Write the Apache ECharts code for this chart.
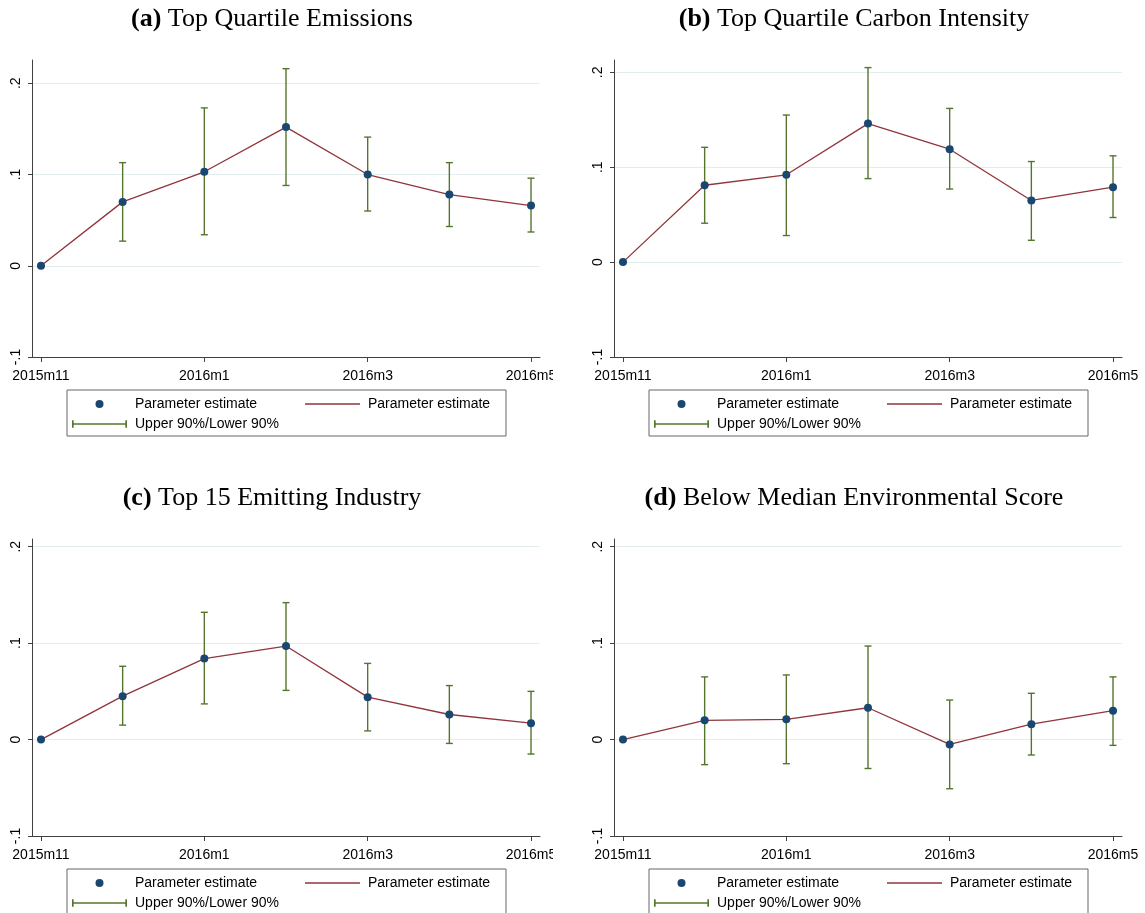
<!DOCTYPE html>
<html>
<head>
<meta charset="utf-8">
<script src="https://cdn.jsdelivr.net/npm/echarts@6.0.0/dist/echarts.min.js"></script>
<style>
html, body { margin:0; padding:0; background:#ffffff; width:1145px; height:913px; overflow:hidden; position:relative; }
.panel { position:absolute; height:456px; }
</style>
</head>
<body>
<div id="pa" class="panel" style="left:0px; top:0px; width:553px;"></div>
<div id="pb" class="panel" style="left:582px; top:0px; width:563px;"></div>
<div id="pc" class="panel" style="left:0px; top:479px; width:553px;"></div>
<div id="pd" class="panel" style="left:582px; top:479px; width:563px;"></div>
<script>
// ---------- data ----------
const months = ['2015m11', '2015m12', '2016m1', '2016m2', '2016m3', '2016m4', '2016m5'];
const xTickIdx = [0, 2, 4, 6];
const yTickValues = [-0.1, 0, 0.1, 0.2];
const yTickLabels = ['-.1', '0', '.1', '.2'];

const panelTags = ['(a)', '(b)', '(c)', '(d)'];
const panelTitles = ['Top Quartile Emissions', 'Top Quartile Carbon Intensity', 'Top 15 Emitting Industry', 'Below Median Environmental Score'];
const yAxisMax = [0.2255, 0.213, 0.208, 0.208];

const estA = [0, 0.070, 0.103, 0.152, 0.100, 0.078, 0.066];
const loA  = [0, 0.027, 0.034, 0.088, 0.060, 0.043, 0.037];
const hiA  = [0, 0.113, 0.173, 0.216, 0.141, 0.113, 0.096];

const estB = [0, 0.081, 0.092, 0.146, 0.119, 0.065, 0.079];
const loB  = [0, 0.041, 0.028, 0.088, 0.077, 0.023, 0.047];
const hiB  = [0, 0.121, 0.155, 0.205, 0.162, 0.106, 0.112];

const estC = [0, 0.045, 0.084, 0.097, 0.044, 0.026, 0.017];
const loC  = [0, 0.015, 0.037, 0.051, 0.009, -0.004, -0.015];
const hiC  = [0, 0.076, 0.132, 0.142, 0.079, 0.056, 0.050];

const estD = [0, 0.020, 0.021, 0.033, -0.005, 0.016, 0.030];
const loD  = [0, -0.026, -0.025, -0.030, -0.051, -0.016, -0.006];
const hiD  = [0, 0.065, 0.067, 0.097, 0.041, 0.048, 0.065];

// ---------- styles ----------
const NAVY = '#1a476f';
const MAROON = '#90353b';
const GREEN = '#55752f';
const AXIS = '#404040';
const GRIDC = '#e3edf0';
const SANS = 'Liberation Sans';
const SERIF = 'Liberation Serif';

function buildOption(k, est, lo, hi) {
  const pts = est.map((v, i) => [i, v]);
  const bars = est.map((v, i) => [i, lo[i], hi[i]]);
  return {
    animation: false,
    backgroundColor: '#ffffff',
    title: {
      text: '{b|' + panelTags[k] + '} ' + panelTitles[k],
      left: 272, top: 6, padding: 0, textAlign: 'center',
      textStyle: {
        fontFamily: SERIF, fontSize: 26, fontWeight: 'normal', color: '#000',
        rich: { b: { fontFamily: SERIF, fontSize: 26, fontWeight: 'bold', color: '#000' } }
      }
    },
    grid: { left: 32, top: 60, width: 508, height: 297, containLabel: false, outerBoundsMode: 'none' },
    xAxis: {
      type: 'value', min: -0.11, max: 6.11, z: 3,
      axisLine: { show: true, onZero: false, lineStyle: { color: AXIS, width: 1 } },
      axisTick: { show: true, customValues: xTickIdx, length: 5, lineStyle: { color: AXIS } },
      axisLabel: {
        customValues: xTickIdx, formatter: v => months[Math.round(v)],
        fontFamily: SANS, fontSize: 14, color: '#000', margin: 12
      },
      splitLine: { show: false }
    },
    yAxis: {
      type: 'value', min: -0.1, max: yAxisMax[k],
      axisLine: { show: true, onZero: false, lineStyle: { color: AXIS, width: 1 } },
      axisTick: { show: true, customValues: yTickValues, length: 4, lineStyle: { color: AXIS } },
      axisLabel: {
        customValues: yTickValues, rotate: 90,
        formatter: v => yTickLabels[yTickValues.findIndex(t => Math.abs(t - v) < 1e-9)],
        fontFamily: SANS, fontSize: 14, color: '#000', margin: 9
      },
      splitLine: { show: true, lineStyle: { color: GRIDC, width: 1 } }
    },
    legend: {
      left: 67, top: 390, orient: 'horizontal', width: 440,
      padding: [6, 8, 4, 5], itemWidth: 55, itemHeight: 8, itemGap: 4,
      backgroundColor: '#ffffff', borderColor: '#666666', borderWidth: 1, borderRadius: 0,
      selectedMode: false,
      textStyle: { fontFamily: SANS, fontSize: 14, color: '#000', width: 166, lineHeight: 16, padding: [0, 0, 0, 3] },
      data: [
        { name: 'Parameter estimate', icon: 'circle', itemStyle: { color: NAVY, opacity: 1 } },
        { name: 'Parameter estimate ', icon: 'path://M0,0h55v1.4h-55z', itemStyle: { color: MAROON, borderWidth: 0 }, textStyle: { width: 130 } },
        '',
        { name: 'Upper 90%/Lower 90%', icon: 'path://M0,0h1.6v7h-1.6z M0,2.7h53v1.6h-53z M51.4,0h1.6v7h-1.6z', itemStyle: { color: GREEN, borderWidth: 0 } }
      ]
    },
    series: [
      {
        type: 'custom', name: 'Upper 90%/Lower 90%', data: bars, z: 1,
        encode: { x: 0, y: [1, 2] },
        itemStyle: { color: GREEN },
        renderItem: function (params, api) {
          const x = api.value(0);
          const pH = api.coord([x, api.value(2)]);
          const pL = api.coord([x, api.value(1)]);
          const w = 3.5;
          const st = { stroke: GREEN, lineWidth: 1.4, fill: null };
          return {
            type: 'group',
            children: [
              { type: 'line', shape: { x1: pH[0], y1: pH[1], x2: pL[0], y2: pL[1] }, style: st },
              { type: 'line', shape: { x1: pH[0] - w, y1: pH[1], x2: pH[0] + w, y2: pH[1] }, style: st },
              { type: 'line', shape: { x1: pL[0] - w, y1: pL[1], x2: pL[0] + w, y2: pL[1] }, style: st }
            ]
          };
        }
      },
      {
        type: 'line', name: 'Parameter estimate ', data: pts, z: 2,
        symbol: 'none', lineStyle: { color: MAROON, width: 1.3 }, itemStyle: { color: MAROON }
      },
      {
        type: 'scatter', name: 'Parameter estimate', data: pts, z: 3,
        symbol: 'circle', symbolSize: 8, itemStyle: { color: NAVY, opacity: 1 }
      }
    ]
  };
}

const sets = [[estA, loA, hiA], [estB, loB, hiB], [estC, loC, hiC], [estD, loD, hiD]];
['pa', 'pb', 'pc', 'pd'].forEach((id, k) => {
  const chart = echarts.init(document.getElementById(id), null, { renderer: 'canvas' });
  chart.setOption(buildOption(k, sets[k][0], sets[k][1], sets[k][2]));
});
</script>
</body>
</html>
